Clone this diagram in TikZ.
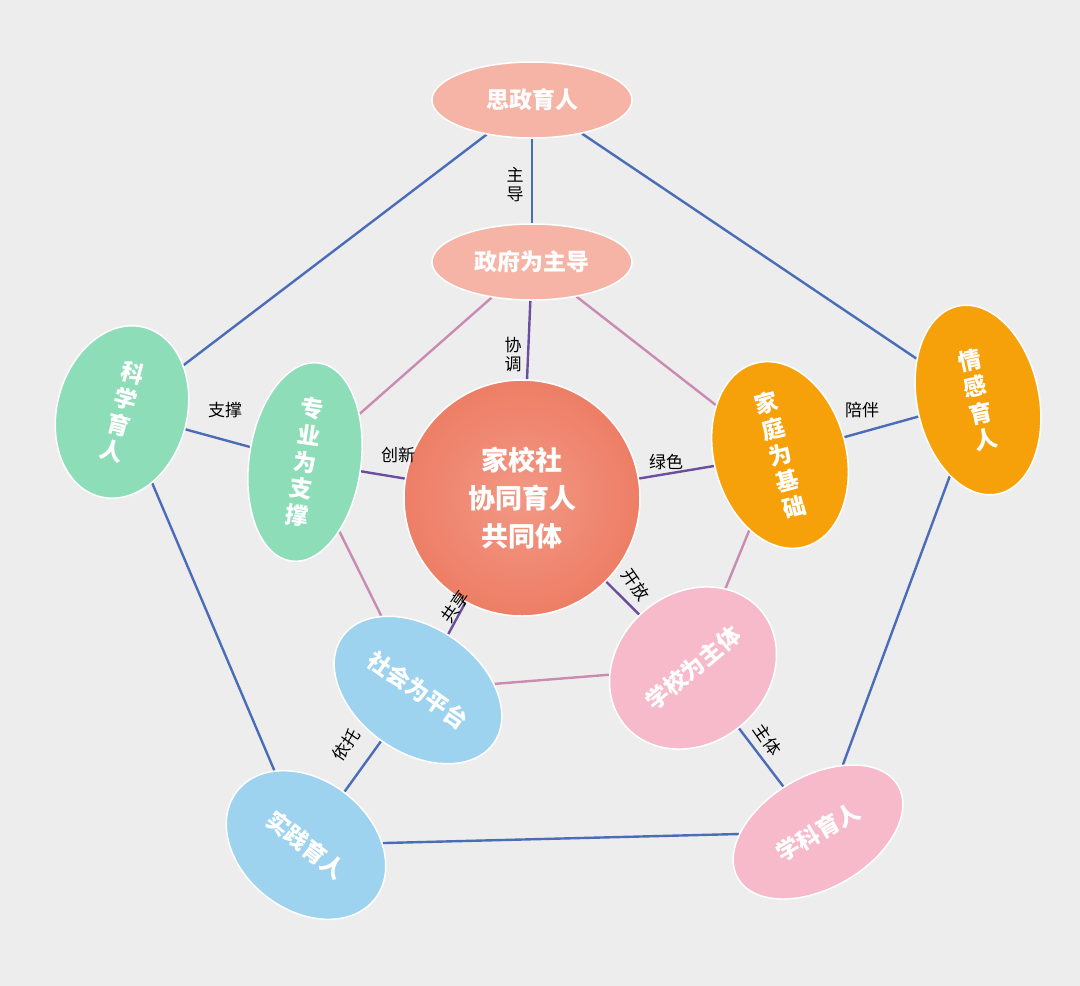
\documentclass[tikz,border=0pt]{standalone}
\usepackage{fontspec}
\setmainfont{Noto Sans CJK SC}
\usetikzlibrary{shapes.geometric,backgrounds}
\definecolor{bgc}{HTML}{EDEDED}
\definecolor{salmon}{HTML}{F6B4A6}
\definecolor{core}{HTML}{EE7E66}
\definecolor{mint}{HTML}{8EDDB9}
\definecolor{amber}{HTML}{F7A10A}
\definecolor{sky}{HTML}{9DD3EF}
\definecolor{rose}{HTML}{F6BACA}
\definecolor{outerln}{HTML}{4B6DB8}
\definecolor{innerln}{HTML}{C98BB0}
\definecolor{spoke}{HTML}{6B4E9E}
\tikzset{
  bub/.style={ellipse,draw=white,line width=1.5pt,text=white,
    font=\fontsize{23}{27}\selectfont\bfseries,align=center,inner sep=0pt},
  lnk/.style={line width=2.4pt},
  lbl/.style={font=\fontsize{17}{19}\selectfont,text=black,inner sep=1pt}
}
\begin{document}
\begin{tikzpicture}[x=1pt,y=-1pt]
  \useasboundingbox (0,0) rectangle (1080,986);

  % outer ring
  \node[bub,fill=salmon,minimum width=200,minimum height=76] (sz) at (532,100) {思政育人};
  \node[bub,fill=mint,minimum width=130,minimum height=175,rotate=-15] (kx) at (122,412) {科\\学\\育\\人};
  \node[bub,fill=amber,minimum width=122,minimum height=192,rotate=12] (qg) at (978,400) {情\\感\\育\\人};
  \node[bub,fill=sky,minimum width=175,minimum height=130,rotate=-38] (sj) at (306,845) {实践育人};
  \node[bub,fill=rose,minimum width=185,minimum height=112,rotate=30] (xk) at (818,832) {学科育人};

  % inner ring
  \node[bub,fill=salmon,minimum width=200,minimum height=76] (zf) at (532,262) {政府为主导};
  \node[bub,fill=mint,minimum width=112,minimum height=200,rotate=-8] (zy) at (305,462) {专\\业\\为\\支\\撑};
  \node[bub,fill=amber,minimum width=132,minimum height=190,rotate=15] (jt) at (780,455) {家\\庭\\为\\基\\础};
  \node[bub,fill=sky,minimum width=185,minimum height=125,rotate=-35] (sh) at (418,690) {社会为平台};
  \node[bub,fill=rose,minimum width=178,minimum height=150,rotate=40] (xx) at (693,668) {学校为主体};

  % core
  \node[circle,draw=white,line width=1.5pt,minimum size=236,inner sep=0pt,
    inner color=core!80!white,outer color=core,text=white,align=center,
    font=\fontsize{27}{38}\selectfont\bfseries] (hx) at (522,498) {家校社\\协同育人\\共同体};

  \begin{scope}[on background layer]
    \fill[bgc] (0,0) rectangle (1080,986);
    \draw[lnk,outerln] (sz) -- (qg) -- (xk) -- (sj) -- (kx) -- (sz);
    \draw[lnk,innerln] (zf) -- (jt) -- (xx) -- (sh) -- (zy) -- (zf);
    \foreach \a/\b in {sz/zf,kx/zy,qg/jt,xk/xx,sj/sh}
      \draw[lnk,outerln] (\a) -- (\b);
    \foreach \b in {zf,zy,jt,xx,sh}
      \draw[lnk,spoke] (hx) -- (\b);
  \end{scope}

  % link labels
  \node[lbl,fill=bgc,align=center] at (515,185) {主\\导};
  \node[lbl,fill=bgc,align=center] at (513,355) {协\\调};
  \node[lbl] at (225,410) {支撑};
  \node[lbl] at (398,455) {创新};
  \node[lbl] at (666,462) {绿色};
  \node[lbl] at (862,410) {陪伴};
  \node[lbl,rotate=-55] at (636,585) {开放};
  \node[lbl,rotate=55] at (455,607) {共享};
  \node[lbl,rotate=55] at (346,745) {依托};
  \node[lbl,rotate=-55] at (768,740) {主体};
\end{tikzpicture}
\end{document}
